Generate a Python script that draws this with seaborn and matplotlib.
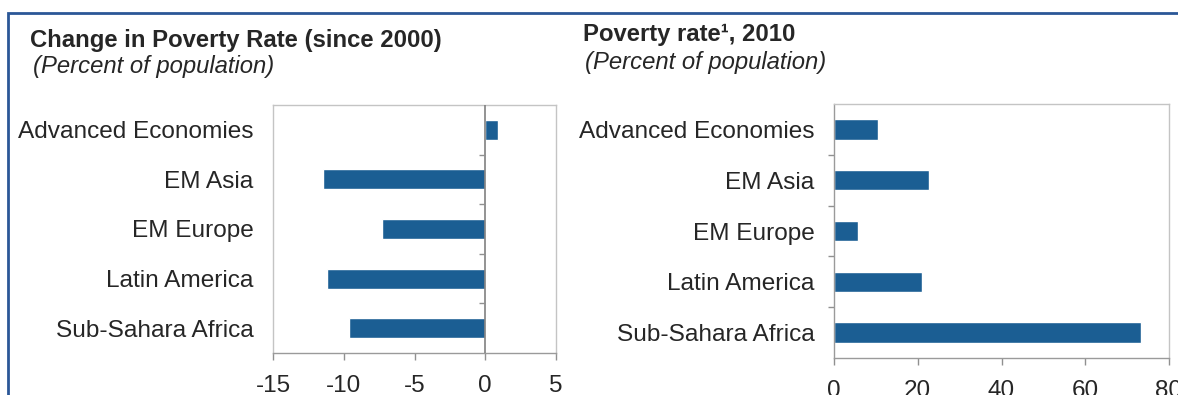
import matplotlib
matplotlib.use("Agg")
import matplotlib.pyplot as plt
import numpy as np
import pandas as pd
import seaborn as sns
from matplotlib.patches import Rectangle

regions = ["Advanced Economies", "EM Asia", "EM Europe", "Latin America", "Sub-Sahara Africa"]
change_since_2000 = [0.9, -11.5, -7.3, -11.2, -9.6]
poverty_rate_2010 = [10.5, 22.7, 5.7, 20.9, 73.4]

left_ticks = [-15, -10, -5, 0, 5]
right_ticks = [0, 20, 40, 60, 80]

bar_color = "#1b5e93"
frame_color = "#2b5797"

sns.set_style("white")
plt.rcParams['font.family'] = ['Liberation Sans', 'DejaVu Sans']

df = pd.DataFrame({"region": regions, "change": change_since_2000, "rate": poverty_rate_2010})

W, H = 1178, 395
fig = plt.figure(figsize=(W / 100, H / 100), dpi=100)


def box(l, t, r, b):
    return [l / W, 1 - b / H, (r - l) / W, (b - t) / H]


ax1 = fig.add_axes(box(273, 105, 556, 353))
ax2 = fig.add_axes(box(834, 104, 1169, 358))

sns.barplot(data=df, x="change", y="region", orient="h", color=bar_color,
            width=0.4, saturation=1, ax=ax1)
sns.barplot(data=df, x="rate", y="region", orient="h", color=bar_color,
            width=0.4, saturation=1, ax=ax2)

bounds = np.arange(len(regions) - 1) + 0.5

for ax, ticks in [(ax1, left_ticks), (ax2, right_ticks)]:
    ax.set_xlim(ticks[0], ticks[-1])
    ax.set_ylim(len(regions) - 0.5, -0.5)
    ax.set_xticks(ticks)
    ax.set_xticklabels([str(t) for t in ticks])
    ax.set_xlabel("")
    ax.set_ylabel("")
    ax.tick_params(axis="x", direction="out", length=5, width=1, color="#909090",
                   labelsize=17.5, pad=11, bottom=True)
    ax.tick_params(axis="y", which="major", length=0, labelsize=17.6, pad=14)
    for s in ax.spines.values():
        s.set_visible(True)
        s.set_color("#c4c4c4")
        s.set_linewidth(1)
    ax.spines["bottom"].set_color("#9a9a9a")

# left chart: the zero line carries the category dividers (short ticks to its left)
ax1.axvline(0, color="#808080", lw=1.2, zorder=3)
ax1.hlines(bounds, -0.45, 0, color="#909090", lw=1, zorder=3)

# right chart: dividers on the left spine
ax2.spines["left"].set_color("#9a9a9a")
ax2.set_yticks(bounds, minor=True)
ax2.tick_params(axis="y", which="minor", direction="out", length=4, width=1,
                color="#909090", left=True)

# titles
fig.text(30 / W, 1 - 40 / H, "Change in Poverty Rate (since 2000)", fontsize=17.2,
         fontweight="bold", va="center", ha="left")
fig.text(33 / W, 1 - 66 / H, "(Percent of population)", fontsize=17.2,
         fontstyle="italic", va="center", ha="left")
fig.text(583 / W, 1 - 35 / H, "Poverty rate¹, 2010", fontsize=17.2,
         fontweight="bold", va="center", ha="left")
fig.text(585 / W, 1 - 62 / H, "(Percent of population)", fontsize=17.2,
         fontstyle="italic", va="center", ha="left")

# outer frame (runs off the right and bottom edges)
fig.add_artist(Rectangle((8 / W, -0.1), 1.2, 1 - 13 / H + 0.1, transform=fig.transFigure,
                         fill=False, edgecolor=frame_color, lw=2))

fig.savefig("out.png", dpi=100)
